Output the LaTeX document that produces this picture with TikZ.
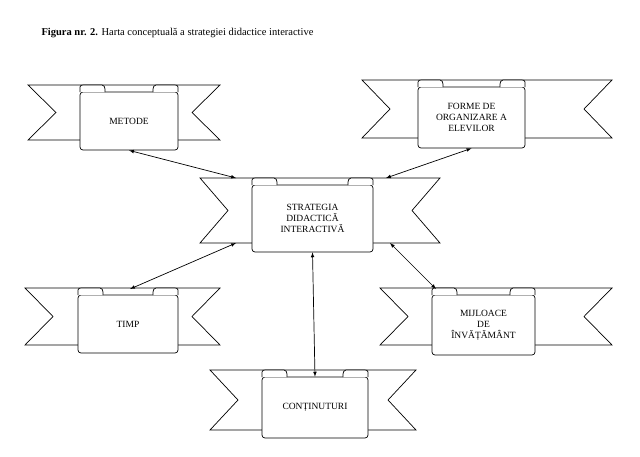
\documentclass[tikz,border=0pt]{standalone}
\usepackage{fontspec}
\setmainfont{Liberation Serif}
\tikzset{
  band/.style={draw, fill=white, line width=0.7pt, line join=miter},
  boxlbl/.style={draw, fill=white, line width=0.7pt, rounded corners=3pt, align=center, font=\fontsize{9.5}{11}\selectfont, inner sep=1pt},
  link/.style={<->, >=latex, line width=0.7pt}
}
\newcommand{\ribbon}[9]{%
  \draw[band] (#2,#4) -- (#3,#4) -- ({#3-28},{(#4+#5)/2}) -- (#3,#5) -- (#2,#5) -- ({#2+28},{(#4+#5)/2}) -- cycle;
  \node[boxlbl, minimum width={(#7-#6)*1pt}, minimum height={(#8-#4-7)*1pt}] (#1) at ({(#6+#7)/2},{(#4+7+#8)/2}) {#9};
  \draw[line width=0.7pt, fill=white] (#6,{#4+7}) -- (#6,{#4+2}) to[out=90,in=180] ({#6+3},#4) -- ({#6+22},#4) to[out=0,in=90] ({#6+25},{#4+4}) -- ({#6+25},{#4+7});
  \draw[line width=0.7pt, fill=white] (#7,{#4+7}) -- (#7,{#4+2}) to[out=90,in=0] ({#7-3},#4) -- ({#7-22},#4) to[out=180,in=90] ({#7-25},{#4+4}) -- ({#7-25},{#4+7});
}
\begin{document}
\begin{tikzpicture}[x=1pt,y=-1pt]
\useasboundingbox (0,0) rectangle (640,456);
\node[anchor=west, font=\fontsize{10.5}{12}\selectfont] (title) at (38,33) {\textbf{Figura nr. 2.} Harta conceptuală a strategiei didactice interactive};
\ribbon{metode}{28}{220}{85}{140}{80}{178}{150}{METODE}
\ribbon{forme}{362}{612}{80}{138}{418}{525}{148}{FORME DE\\ ORGANIZARE A\\ ELEVILOR}
\ribbon{strat}{200}{440}{178}{243}{252}{373}{252}{STRATEGIA\\ DIDACTICĂ\\ INTERACTIVĂ}
\ribbon{timp}{25}{220}{288}{345}{78}{178}{353}{TIMP}
\ribbon{mij}{380}{612}{288}{345}{432}{535}{355}{MIJLOACE\\ DE\\ ÎNVĂȚĂMÂNT}
\ribbon{cont}{210}{416}{370}{430}{262}{368}{438}{CONȚINUTURI}
\coordinate (sTL) at (236,178);
\coordinate (sTR) at (386,178);
\coordinate (sBL) at (236,243);
\coordinate (sBR) at (390,243);
\coordinate (tTop) at (130,289);
\coordinate (mTop) at (436,289);
\draw[link] (metode.south) -- (sTL);
\draw[link] (forme.south) -- (sTR);
\draw[link] (tTop) -- (sBL);
\draw[link] (mTop) -- (sBR);
\draw[link] (cont.north) -- (strat.south);
\end{tikzpicture}
\end{document}
